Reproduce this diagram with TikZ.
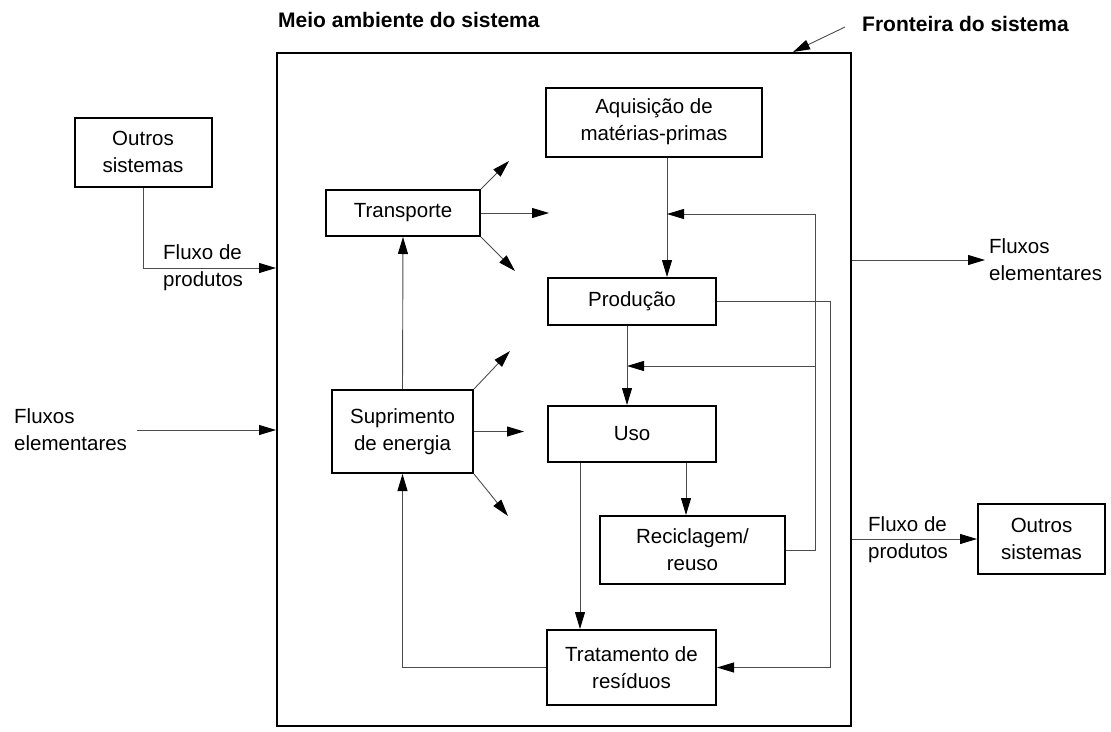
\documentclass[tikz,border=0pt]{standalone}
\usepackage{fontspec}
\setmainfont{Liberation Sans}
\usetikzlibrary{arrows.meta}

\begin{document}
\begin{tikzpicture}[x=1pt,y=-1pt]
\tikzstyle{every node}=[font=\fontsize{20.5}{27}\selectfont]
\tikzstyle{caixa}=[draw, line width=2pt, align=center, inner sep=0pt]
\tikzstyle{fluxo}=[->, >={Triangle[length=17pt,width=10pt,color=black]}, line width=0.9pt, black!70]
\tikzstyle{rotulo}=[anchor=west, align=left, inner sep=0pt]
\useasboundingbox (0,0) rectangle (1111,731);
% fronteira do sistema
\node [draw, line width=2pt, minimum width=574pt, minimum height=673pt, inner sep=0pt] (fronteira) at (564,389.5) {};
\node [rotulo, font=\fontsize{21}{27}\selectfont\bfseries] (meio) at (278,20) {Meio ambiente do sistema};
\node [rotulo, font=\fontsize{21}{27}\selectfont\bfseries] (front) at (862,24) {Fronteira do sistema};
% processos
\node [caixa, minimum width=137pt, minimum height=69pt] (outrosE) at (143,152) {Outros\\sistemas};
\node [caixa, minimum width=216pt, minimum height=69pt] (aquis) at (654,122) {Aquisição de\\matérias-primas};
\node [caixa, minimum width=154pt, minimum height=46pt] (transp) at (403,213) {Transporte};
\node [caixa, minimum width=168pt, minimum height=47pt] (prod) at (632,301.5) {Produção};
\node [caixa, minimum width=141pt, minimum height=83pt] (supr) at (402.5,431.5) {Suprimento\\de energia};
\node [caixa, minimum width=168pt, minimum height=56pt] (uso) at (632,434) {Uso};
\node [caixa, minimum width=185pt, minimum height=68pt] (recic) at (692.5,550) {Reciclagem/\\reuso};
\node [caixa, minimum width=169pt, minimum height=75pt] (trat) at (631.5,667.5) {Tratamento de\\resíduos};
\node [caixa, minimum width=127pt, minimum height=70pt] (outrosD) at (1041.5,539) {Outros\\sistemas};
% rotulos de fluxo
\node [rotulo] (prodE) at (163,268) {Fluxo de\\produtos};
\node [rotulo] (elemE) at (14,430) {Fluxos\\elementares};
\node [rotulo] (elemD) at (989,260) {Fluxos\\elementares};
\node [rotulo] (prodD) at (868,540) {Fluxo de\\produtos};
\coordinate (r1) at (815,214);
\coordinate (r2) at (815,366);
\coordinate (j1) at (667,214);
\coordinate (j2) at (627,366);
\coordinate (r3) at (830,480);
% conexoes
\draw [fluxo] ([xshift=-17pt,yshift=-3pt]front.west) -- ([xshift=229pt]fronteira.north);
\draw [fluxo] (outrosE.south) |- ([yshift=121.5pt]fronteira.west);
\draw [fluxo] ([xshift=10pt]elemE.east) -- (fronteira.west |- elemE.east);
\draw [fluxo] (fronteira.east |- elemD.west) -- ([xshift=-4pt]elemD.west);
\draw [fluxo] (fronteira.east |- outrosD.west) -- (outrosD.west);
\draw [fluxo] ([xshift=13pt]aquis.south) -- ([xshift=35pt]prod.north);
\draw [fluxo] (recic.east) -| (r1) -- (j1);
\draw [fluxo] (r2) -- (j2);
\draw [fluxo] (prod.east) -| (r3) |- (trat.east);
\draw [fluxo] ([xshift=-5pt]prod.south) -- ([xshift=-5pt]uso.north);
\draw [fluxo] ([xshift=54pt]uso.south) -- ([xshift=-6.5pt]recic.north);
\draw [fluxo] ([xshift=-52pt]uso.south) -- ([xshift=-51.5pt]trat.north);
\draw [fluxo] (trat.west) -| (supr.south);
\draw [fluxo] (supr.north) -- (transp.south);
\draw [fluxo] (transp.north east) -- ++(28,-28);
\draw [fluxo] (transp.east) -- ++(68,0);
\draw [fluxo] (transp.south east) -- ++(34,34);
\draw [fluxo] (supr.north east) -- ++(36,-38);
\draw [fluxo] (supr.east) -- ++(50,0);
\draw [fluxo] (supr.south east) -- ++(34,42);
\end{tikzpicture}
\end{document}
